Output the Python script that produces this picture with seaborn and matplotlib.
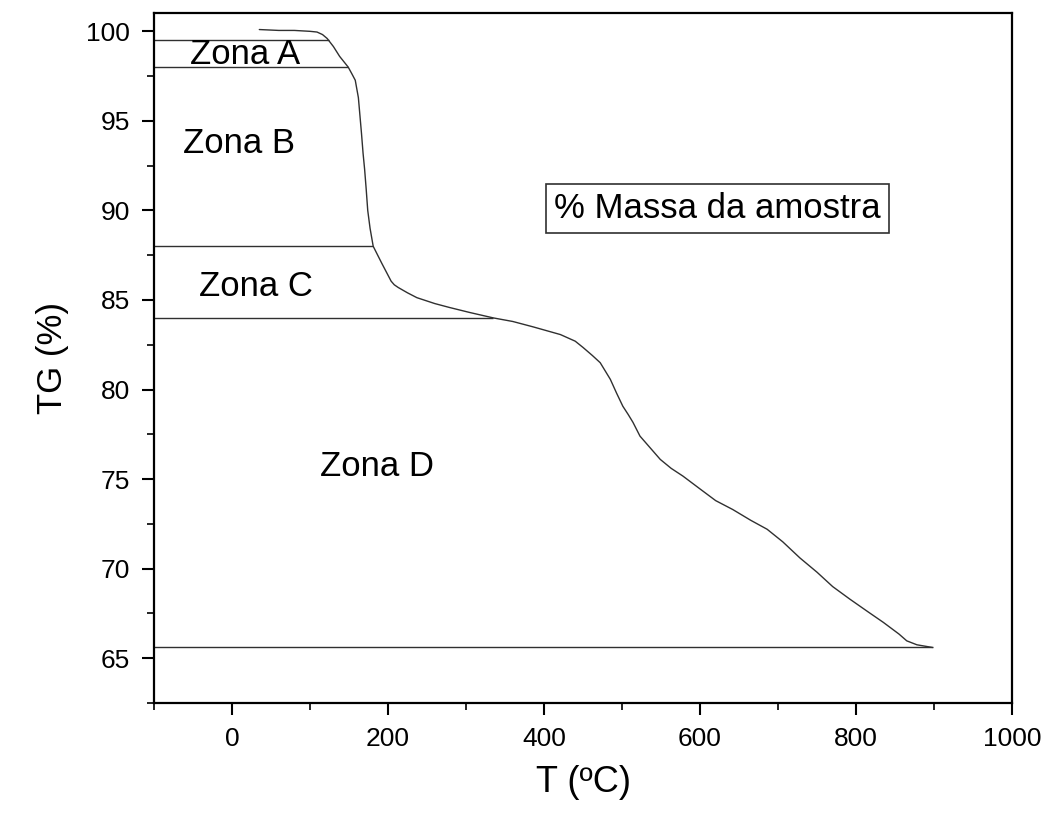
import matplotlib
matplotlib.use("Agg")
import matplotlib.pyplot as plt
import seaborn as sns
import pandas as pd
from matplotlib.ticker import MultipleLocator

# Thermogravimetric curve: temperature (ºC) and remaining mass (%)
temperature = [35, 60, 80, 100, 109, 116, 122, 130, 138, 149, 154, 158, 162, 164,
               166, 168, 170, 172, 174, 177, 181, 192, 204, 208, 213, 225, 237,
               260, 279, 305, 335, 360, 386, 421, 440, 450, 462, 472, 479, 485,
               493, 501, 508, 514, 523, 535, 549, 563, 578, 600, 620, 642, 665,
               686, 706, 728, 750, 770, 792, 815, 835, 855, 865, 878, 898]
mass = [100.1, 100.05, 100.05, 100.0, 99.96, 99.82, 99.6, 99.15, 98.6, 98.0,
        97.6, 97.27, 96.3, 95.3, 94.3, 93.2, 92.3, 91.2, 90.0, 89.0, 88.0,
        87.05, 86.05, 85.85, 85.7, 85.4, 85.13, 84.8, 84.58, 84.3, 84.0, 83.8,
        83.5, 83.07, 82.7, 82.35, 81.9, 81.5, 81.0, 80.57, 79.8, 79.07, 78.6,
        78.17, 77.4, 76.8, 76.1, 75.6, 75.17, 74.45, 73.8, 73.3, 72.7, 72.2,
        71.5, 70.6, 69.8, 69.0, 68.3, 67.6, 67.0, 66.35, 65.97, 65.75, 65.6]

# Zone boundaries: mass level and the temperature where it meets the curve
boundary_levels = [99.5, 98.0, 88.0, 84.0, 65.6]
boundary_ends = [124, 149, 181, 335, 898]

# Zone labels and their anchor positions
zone_names = ["Zona A", "Zona B", "Zona C", "Zona D"]
zone_x = [17, 9, 31, 186]
zone_y = [98.7, 93.75, 85.75, 75.7]

sns.set_theme(style="ticks")
plt.rcParams["font.family"] = ["Liberation Sans", "DejaVu Sans"]

fig = plt.figure(figsize=(10.49, 8.13), dpi=100)
ax = fig.add_axes([0.1468, 0.1353, 0.8180, 0.8493])

curve = pd.DataFrame({"T": temperature, "TG": mass})
sns.lineplot(data=curve, x="T", y="TG", ax=ax, sort=False, estimator=None,
             color="#303030", linewidth=1.0)

ax.hlines(boundary_levels, -100, boundary_ends, color="#303030", linewidth=1.0)

for name, zx, zy in zip(zone_names, zone_x, zone_y):
    ax.text(zx, zy, name, ha="center", va="center", fontsize=25, color="black")

ax.text(622, 90.1, "% Massa da amostra", ha="center", va="center", fontsize=25,
        color="black",
        bbox=dict(boxstyle="square,pad=0.24", facecolor="white",
                  edgecolor="#303030", linewidth=1.2))

ax.set_xlim(-100, 1000)
ax.set_ylim(62.5, 101.05)
ax.xaxis.set_major_locator(MultipleLocator(200))
ax.xaxis.set_minor_locator(MultipleLocator(100))
ax.yaxis.set_major_locator(MultipleLocator(5))
ax.yaxis.set_minor_locator(MultipleLocator(2.5))

ax.tick_params(which="major", direction="out", length=8.5, width=1.5,
               labelsize=19, color="black", labelcolor="black", pad=9)
ax.tick_params(which="minor", direction="out", length=5, width=1.2, color="black")

for side in ax.spines.values():
    side.set_linewidth(1.6)
    side.set_color("black")
    side.set_visible(True)

ax.set_xlabel("T (ºC)", fontsize=26, color="black", labelpad=10)
ax.set_ylabel("TG (%)", fontsize=25, color="black", labelpad=12)

fig.savefig("out.png", dpi=100, facecolor="white")
